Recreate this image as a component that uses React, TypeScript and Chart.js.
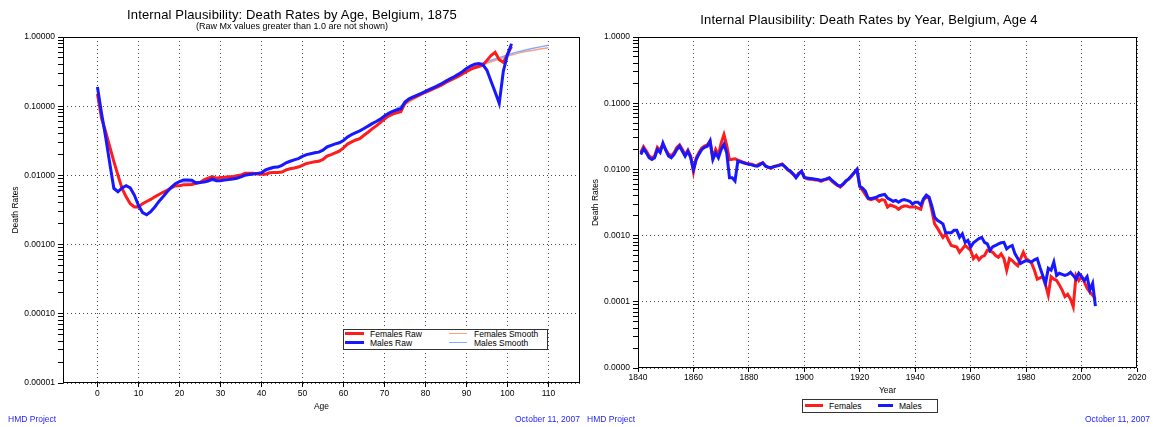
import React, { useEffect, useRef } from 'react';
import { Chart, registerables } from 'chart.js';

Chart.register(...registerables);

const FONT = "'Liberation Sans', Arial, Helvetica, sans-serif";

// ---------- Left chart: death rates by age, 1875 ----------
const femalesRaw = [
  0.15, 0.067, 0.043, 0.026, 0.0159, 0.0101, 0.0065, 0.0049, 0.0039, 0.0035,
  0.0035, 0.0039, 0.0042, 0.0045, 0.0049, 0.0053, 0.0057, 0.0061, 0.0066, 0.0071,
  0.0071, 0.0073, 0.0073, 0.0074, 0.0077, 0.0079, 0.0086, 0.0091, 0.0096, 0.0091,
  0.0093, 0.0094, 0.0096, 0.0096, 0.0099, 0.0101, 0.0107, 0.0107, 0.0107, 0.0105,
  0.0104, 0.0104, 0.0109, 0.011, 0.011, 0.0112, 0.012, 0.0125, 0.0128, 0.0132,
  0.014, 0.0149, 0.0153, 0.0157, 0.016, 0.017, 0.019, 0.02, 0.0212, 0.0224,
  0.025, 0.0285, 0.0305, 0.0325, 0.034, 0.038, 0.042, 0.047, 0.052, 0.058,
  0.065, 0.072, 0.077, 0.08, 0.083, 0.11, 0.124, 0.132, 0.14, 0.149,
  0.159, 0.168, 0.179, 0.19, 0.203, 0.22, 0.235, 0.252, 0.27, 0.292,
  0.315, 0.34, 0.36, 0.375, 0.39, 0.46, 0.54, 0.6, 0.47, 0.43,
  0.56, 0.73,
];
const malesRaw = [
  0.19, 0.079, 0.036, 0.015, 0.0065, 0.0058, 0.0066, 0.0071, 0.0066, 0.0052,
  0.0037, 0.0029, 0.0027, 0.003, 0.0035, 0.0042, 0.0049, 0.0058, 0.0067, 0.0076,
  0.0081, 0.0086, 0.0086, 0.0085, 0.0078, 0.0079, 0.008, 0.0083, 0.0089, 0.0084,
  0.0084, 0.0086, 0.0087, 0.0089, 0.0091, 0.0095, 0.0101, 0.0103, 0.0105, 0.0107,
  0.0109, 0.012, 0.0126, 0.0131, 0.0132, 0.014, 0.0152, 0.016, 0.0168, 0.0175,
  0.0188, 0.02, 0.0206, 0.0212, 0.0217, 0.0232, 0.0258, 0.0272, 0.0285, 0.0296,
  0.032, 0.036, 0.039, 0.0415, 0.044, 0.0475, 0.0515, 0.056, 0.06, 0.065,
  0.072, 0.079, 0.084, 0.088, 0.092, 0.115, 0.128, 0.136, 0.144, 0.153,
  0.164, 0.175, 0.186, 0.198, 0.213, 0.23, 0.248, 0.266, 0.288, 0.315,
  0.35, 0.38, 0.405, 0.415, 0.4, 0.33, 0.23, 0.16, 0.11, 0.32,
  0.55, 0.8,
];
const smoothAges = [
  0, 1, 2, 3, 4, 5, 6, 7, 8, 9, 10, 11, 12, 13, 14, 15, 16, 18, 20, 25, 30, 35,
  40, 45, 50, 55, 60, 65, 70, 75, 80, 85, 90, 92, 94, 96, 98, 100, 102, 104, 106, 108, 110,
];
const femalesSmooth = [
  0.15, 0.068, 0.042, 0.026, 0.016, 0.01, 0.0067, 0.005, 0.004, 0.0036, 0.0036,
  0.0039, 0.0042, 0.0045, 0.0049, 0.0053, 0.0057, 0.0066, 0.0071, 0.008, 0.0093, 0.0101,
  0.0104, 0.0113, 0.014, 0.0172, 0.025, 0.038, 0.065, 0.105, 0.159, 0.22,
  0.315, 0.36, 0.4, 0.44, 0.48, 0.53, 0.57, 0.61, 0.64, 0.67, 0.7,
];
const malesSmooth = [
  0.19, 0.08, 0.036, 0.015, 0.0068, 0.006, 0.0066, 0.007, 0.0066, 0.0052, 0.0038,
  0.003, 0.0027, 0.003, 0.0035, 0.0042, 0.0049, 0.0067, 0.0081, 0.008, 0.0085, 0.0095,
  0.011, 0.014, 0.0188, 0.0232, 0.032, 0.0475, 0.072, 0.11, 0.164, 0.23,
  0.35, 0.39, 0.42, 0.46, 0.5, 0.55, 0.6, 0.64, 0.68, 0.72, 0.76,
];
const ageTicks = [0, 10, 20, 30, 40, 50, 60, 70, 80, 90, 100, 110];
const leftYLabels = ['0.00001', '0.00010', '0.00100', '0.01000', '0.10000', '1.00000'];

// ---------- Right chart: death rates by year, age 4 ----------
const firstYear = 1841;
const femalesYear = [
  0.018, 0.022, 0.019, 0.016, 0.015, 0.016, 0.0215, 0.0195, 0.024, 0.02,
  0.017, 0.016, 0.0178, 0.0215, 0.0235, 0.02, 0.0165, 0.0195, 0.016, 0.0092,
  0.015, 0.018, 0.021, 0.0225, 0.0235, 0.0265, 0.015, 0.02, 0.0165, 0.025,
  0.0335, 0.023, 0.014, 0.0142, 0.0145, 0.0138, 0.0133, 0.0128, 0.0124, 0.0122,
  0.012, 0.0116, 0.0115, 0.0122, 0.0125, 0.0114, 0.0107, 0.0104, 0.0111, 0.0114,
  0.0117, 0.0121, 0.011, 0.0098, 0.0092, 0.0084, 0.0078, 0.0088, 0.0093, 0.0077,
  0.0072, 0.0071, 0.0071, 0.0069, 0.0069, 0.0066, 0.0069, 0.0071, 0.0073, 0.0066,
  0.0061, 0.0057, 0.0054, 0.0059, 0.0066, 0.0071, 0.0079, 0.0089, 0.01, 0.0055,
  0.0048, 0.0042, 0.0036, 0.0035, 0.0036, 0.0036, 0.0033, 0.0035, 0.0034, 0.0027,
  0.0029, 0.0028, 0.0027, 0.0025, 0.0027, 0.0028, 0.0028, 0.0027, 0.0027, 0.0027,
  0.0026, 0.0025, 0.0035, 0.0038, 0.0037, 0.0024, 0.0015, 0.0013, 0.0011, 0.00094,
  0.00106, 0.00085, 0.00071, 0.00069, 0.00067, 0.00056, 0.00063, 0.00071, 0.00065, 0.0006,
  0.00045, 0.0005, 0.00043, 0.00048, 0.0005, 0.0006, 0.00058, 0.00056, 0.0005, 0.00047,
  0.00053, 0.00045, 0.0003, 0.00045, 0.00042, 0.00038, 0.00035, 0.00045, 0.00056, 0.00045,
  0.00042, 0.00038, 0.0003, 0.00022, 0.00023, 0.00024, 0.00018, 0.000126, 0.00024, 0.00022,
  0.00021, 0.00018, 0.00015, 0.00012, 0.00013, 0.00011, 0.000084, 0.00025, 0.00021, 0.00024,
  0.0002, 0.00016, 0.00014, 0.000126, 0.00011,
];
const malesYear = [
  0.0168, 0.0205, 0.0178, 0.015, 0.0141, 0.015, 0.02, 0.018, 0.025, 0.0195,
  0.016, 0.015, 0.0168, 0.02, 0.0224, 0.0188, 0.0158, 0.0188, 0.015, 0.01,
  0.0141, 0.017, 0.02, 0.0215, 0.0224, 0.027, 0.0141, 0.0178, 0.015, 0.02,
  0.024, 0.0178, 0.0075, 0.0075, 0.0067, 0.0133, 0.013, 0.0126, 0.0122, 0.0119,
  0.0117, 0.0113, 0.0112, 0.0118, 0.0126, 0.0112, 0.0108, 0.0106, 0.011, 0.0112,
  0.0115, 0.0119, 0.011, 0.01, 0.0094, 0.0085, 0.0075, 0.0085, 0.0094, 0.0075,
  0.0074, 0.0073, 0.0072, 0.0071, 0.007, 0.0068, 0.007, 0.0072, 0.0075, 0.0068,
  0.0063, 0.0058, 0.0056, 0.006, 0.0067, 0.0072, 0.008, 0.009, 0.01, 0.0056,
  0.0052, 0.0047, 0.0037, 0.0036, 0.0037, 0.0038, 0.004, 0.0041, 0.0042, 0.0037,
  0.0035, 0.0033, 0.0034, 0.0032, 0.0034, 0.0035, 0.0034, 0.0033, 0.003, 0.0032,
  0.0032, 0.0029, 0.0036, 0.0041, 0.0038, 0.0028, 0.0019, 0.0017, 0.0016, 0.0015,
  0.0011, 0.0011, 0.0011, 0.0012, 0.0012, 0.00094, 0.00106, 0.00079, 0.00085, 0.00067,
  0.00078, 0.00084, 0.0009, 0.00094, 0.00079, 0.00075, 0.0006, 0.00068, 0.00071, 0.00075,
  0.00078, 0.00079, 0.00063, 0.00068, 0.00071, 0.00053, 0.00045, 0.00038, 0.0004, 0.00042,
  0.00041, 0.0004, 0.00043, 0.00045, 0.00033, 0.00025, 0.00019, 0.00032, 0.0003, 0.0004,
  0.00025, 0.00027, 0.00026, 0.00025, 0.00026, 0.00028, 0.00025, 0.00022, 0.00027, 0.00024,
  0.00021, 0.00024, 0.00015, 0.00019, 0.000086,
];
const yearTicks = [1840, 1860, 1880, 1900, 1920, 1940, 1960, 1980, 2000, 2020];
const rightYLabels = ['0.0000', '0.0001', '0.0010', '0.0100', '0.1000', '1.0000'];

// ---------- styling ----------
const RED = 'rgb(255,28,28)';
const BLUE = 'rgb(24,24,255)';
const RED_SMOOTH = 'rgb(250,160,130)';
const BLUE_SMOOTH = 'rgb(130,170,255)';
const DOT = 'rgba(0,0,0,0.7)';
const FOOT = 'rgb(30,30,255)';

const framePlugin = {
  id: 'frame',
  afterDraw(chart: any) {
    const { ctx, chartArea: a } = chart;
    ctx.save();
    ctx.strokeStyle = '#000';
    ctx.lineWidth = 1;
    ctx.setLineDash([]);
    ctx.strokeRect(Math.round(a.left) + 0.5, Math.round(a.top) + 0.5, Math.round(a.right - a.left) - 1, Math.round(a.bottom - a.top) - 1);
    ctx.restore();
  },
};

function logTicks(minExp: number, maxExp: number) {
  const t: any[] = [];
  for (let e = minExp; e < maxExp; e++) {
    for (let m = 1; m < 10; m++) t.push({ value: m * Math.pow(10, e), major: m === 1 });
  }
  t.push({ value: Math.pow(10, maxExp), major: true });
  return t;
}

function yScale(labels: string[], width: number, titlePad: number) {
  return {
    type: 'logarithmic',
    min: 1e-5,
    max: 1,
    afterFit: (s: any) => { s.width = width; },
    afterBuildTicks: (s: any) => { s.ticks = logTicks(-5, 0); },
    ticks: {
      autoSkip: false,
      color: '#000',
      padding: 3,
      font: { family: FONT, size: 8.5 },
      callback: (v: number, i: number, ticks: any[]) =>
        ticks[i] && ticks[i].major ? labels[Math.round(Math.log10(v)) + 5] : '',
    },
    grid: {
      color: (c: any) => (c.tick && c.tick.major ? DOT : 'rgba(0,0,0,0)'),
      tickColor: '#000',
      tickLength: 5,
    },
    border: { display: false, dash: [1, 3] },
    title: {
      display: true,
      text: 'Death Rates',
      color: '#000',
      font: { family: FONT, size: 8.5 },
      padding: { top: titlePad, bottom: 0 },
    },
  };
}

function xScale(min: number, max: number, tickVals: number[], height: number, title: string, tickPad: number, titlePad: number) {
  return {
    type: 'linear',
    min,
    max,
    afterFit: (s: any) => { s.height = height; },
    afterBuildTicks: (s: any) => { s.ticks = tickVals.map((v) => ({ value: v })); },
    ticks: {
      autoSkip: false,
      maxRotation: 0,
      color: '#000',
      padding: tickPad,
      font: { family: FONT, size: 8.5 },
      callback: (v: number) => String(v),
    },
    grid: { color: DOT, tickColor: '#000', tickLength: 4 },
    border: { display: false, dash: [1, 3] },
    title: {
      display: true,
      text: title,
      color: '#000',
      font: { family: FONT, size: 8.5 },
      padding: { top: 0, bottom: titlePad },
    },
  };
}

const lineDs = (label: string, data: any[], color: string, width: number) => ({
  label,
  data,
  borderColor: color,
  backgroundColor: color,
  borderWidth: width,
  pointRadius: 0,
  pointHoverRadius: 0,
  tension: 0,
  fill: false,
});

const commonPlugins = { legend: { display: false }, tooltip: { enabled: false }, title: { display: false } };

function LeftChart() {
  const ref = useRef<HTMLCanvasElement>(null);
  useEffect(() => {
    const toPts = (arr: number[]) => arr.map((v, i) => ({ x: i, y: v }));
    const toSm = (arr: number[]) => arr.map((v, i) => ({ x: smoothAges[i], y: v }));
    const chart = new Chart(ref.current as HTMLCanvasElement, {
      type: 'line',
      data: {
        datasets: [
          lineDs('Males Raw', toPts(malesRaw), BLUE, 3),
          lineDs('Females Raw', toPts(femalesRaw), RED, 3),
          lineDs('Males Smooth', toSm(malesSmooth), BLUE_SMOOTH, 1.5),
          lineDs('Females Smooth', toSm(femalesSmooth), RED_SMOOTH, 1.5),
        ],
      },
      options: {
        animation: false,
        responsive: false,
        events: [],
        layout: { padding: { top: 37, left: 0, right: 5, bottom: 0 } },
        plugins: commonPlugins,
        scales: {
          x: xScale(-8.4, 117.7, ageTicks, 32, 'Age', 2, 3),
          y: yScale(leftYLabels, 63, 11),
        },
      } as any,
      plugins: [framePlugin],
    });
    return () => chart.destroy();
  }, []);
  return <canvas ref={ref} width={585} height={415} style={{ position: 'absolute', left: 0, top: 0, width: 585, height: 415 }} />;
}

function RightChart() {
  const ref = useRef<HTMLCanvasElement>(null);
  useEffect(() => {
    const toPts = (arr: number[]) => arr.map((v, i) => ({ x: firstYear + i, y: v }));
    const chart = new Chart(ref.current as HTMLCanvasElement, {
      type: 'line',
      data: {
        datasets: [
          lineDs('Males', toPts(malesYear), BLUE, 3),
          lineDs('Females', toPts(femalesYear), RED, 3),
        ],
      },
      options: {
        animation: false,
        responsive: false,
        events: [],
        layout: { padding: { top: 37, left: 0, right: 16, bottom: 0 } },
        plugins: commonPlugins,
        scales: {
          x: xScale(1840, 2020, yearTicks, 47, 'Year', 1, 19),
          y: yScale(rightYLabels, 53, 6),
        },
      } as any,
      plugins: [framePlugin],
    });
    return () => chart.destroy();
  }, []);
  return <canvas ref={ref} width={568} height={415} style={{ position: 'absolute', left: 585, top: 0, width: 568, height: 415 }} />;
}

const txt = (extra: React.CSSProperties): React.CSSProperties => ({
  position: 'absolute',
  whiteSpace: 'nowrap',
  fontFamily: FONT,
  color: '#000',
  ...extra,
});

function LegendLine({ x, y, w, h, color }: { x: number; y: number; w: number; h: number; color: string }) {
  return <div style={{ position: 'absolute', left: x, top: y - h / 2, width: w, height: h, background: color }} />;
}

export default function App() {
  return (
    <div style={{ position: 'absolute', left: 0, top: 0, width: 1153, height: 427, background: '#fff', overflow: 'hidden' }}>
      <LeftChart />
      <RightChart />

      {/* titles */}
      <div style={txt({ left: 292, top: 7, fontSize: 13, letterSpacing: '0.15px', lineHeight: '15px', transform: 'translateX(-50%)' })}>
        Internal Plausibility: Death Rates by Age, Belgium, 1875
      </div>
      <div style={txt({ left: 292, top: 21, fontSize: 9, lineHeight: '10px', transform: 'translateX(-50%)' })}>
        (Raw Mx values greater than 1.0 are not shown)
      </div>
      <div style={txt({ left: 869, top: 12, fontSize: 13, letterSpacing: '0.15px', lineHeight: '15px', transform: 'translateX(-50%)' })}>
        Internal Plausibility: Death Rates by Year, Belgium, Age 4
      </div>

      {/* left legend (inside plot) */}
      <div style={{ position: 'absolute', left: 343, top: 329, width: 203, height: 19, background: '#fff', border: '1px solid #333' }} />
      <LegendLine x={345} y={333.5} w={19} h={3} color={RED} />
      <LegendLine x={345} y={342.5} w={19} h={3} color={BLUE} />
      <LegendLine x={449} y={333.5} w={18} h={1.5} color={RED_SMOOTH} />
      <LegendLine x={449} y={342.5} w={18} h={1.5} color={BLUE_SMOOTH} />
      <div style={txt({ left: 370, top: 328.5, fontSize: 8.5, lineHeight: '10px' })}>Females Raw</div>
      <div style={txt({ left: 370, top: 337.5, fontSize: 8.5, lineHeight: '10px' })}>Males Raw</div>
      <div style={txt({ left: 474, top: 328.5, fontSize: 8.5, lineHeight: '10px' })}>Females Smooth</div>
      <div style={txt({ left: 474, top: 337.5, fontSize: 8.5, lineHeight: '10px' })}>Males Smooth</div>

      {/* right legend (below plot) */}
      <div style={{ position: 'absolute', left: 802, top: 399, width: 134, height: 12, background: '#fff', border: '1px solid #333' }} />
      <LegendLine x={805} y={405.5} w={18} h={3} color={RED} />
      <LegendLine x={878} y={405.5} w={15} h={3} color={BLUE} />
      <div style={txt({ left: 829, top: 400.5, fontSize: 8.5, lineHeight: '10px' })}>Females</div>
      <div style={txt({ left: 899, top: 400.5, fontSize: 8.5, lineHeight: '10px' })}>Males</div>

      {/* footers */}
      <div style={txt({ left: 8, top: 414, fontSize: 8.5, lineHeight: '10px', color: FOOT })}>HMD Project</div>
      <div style={txt({ right: 1153 - 580, top: 414, fontSize: 8.5, lineHeight: '10px', color: FOOT })}>October 11, 2007</div>
      <div style={txt({ left: 587, top: 414, fontSize: 8.5, lineHeight: '10px', color: FOOT })}>HMD Project</div>
      <div style={txt({ right: 3, top: 414, fontSize: 8.5, lineHeight: '10px', color: FOOT })}>October 11, 2007</div>
    </div>
  );
}
